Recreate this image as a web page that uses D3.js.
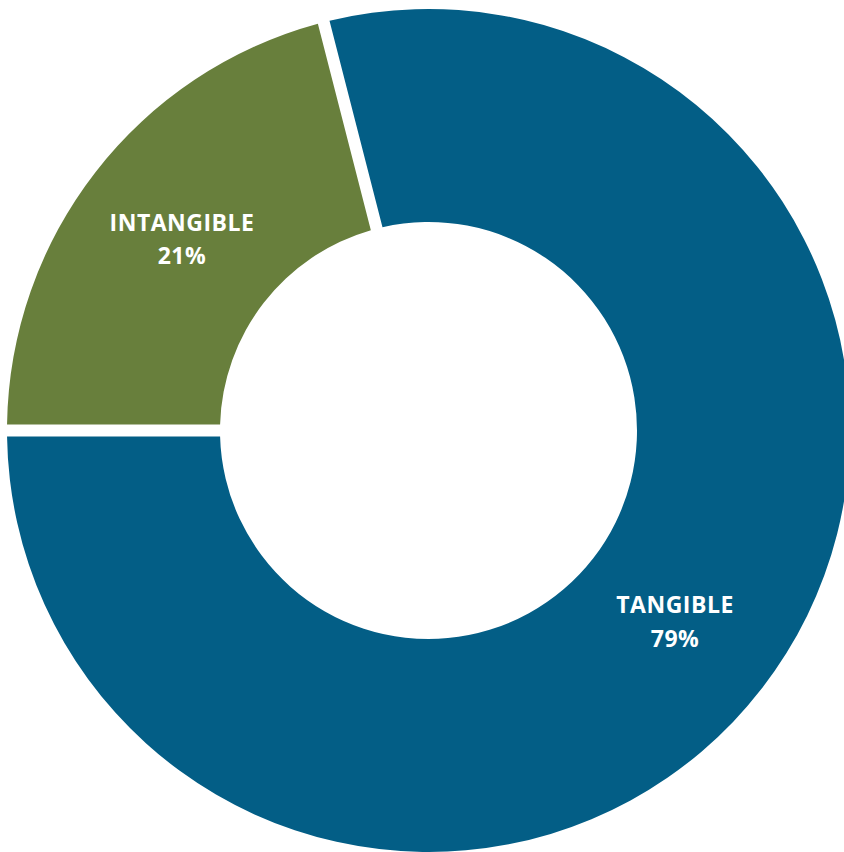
<!DOCTYPE html>
<html>
<head>
<meta charset="utf-8">
<script src="https://cdn.jsdelivr.net/npm/d3@7"></script>
<style>
  html, body { margin: 0; padding: 0; background: #ffffff; }
  svg { display: block; }
</style>
</head>
<body>
<svg id="chart" width="844" height="852"></svg>
<script>
// Share of value by asset type
const categories = ["INTANGIBLE", "TANGIBLE"];
const shares = [21, 79];
const colors = ["#687F3C", "#035E86"];

const width = 844, height = 852;
const cx = 428.5, cy = 430.5;
const outerR = 421.5, innerR = 208.5;
const gap = 12;

const svg = d3.select("#chart");
const g = svg.append("g").attr("transform", `translate(${cx},${cy})`);

const data = categories.map((c, i) => ({ name: c, value: shares[i], color: colors[i] }));

const pie = d3.pie()
  .sort(null)
  .value(d => d.value)
  .startAngle(-Math.PI / 2)
  .endAngle(1.5 * Math.PI);

const arcs = pie(data);

const padR = 300;
const arc = d3.arc()
  .innerRadius(innerR)
  .outerRadius(outerR)
  .padRadius(padR)
  .padAngle(gap / padR);

g.selectAll("path.slice")
  .data(arcs)
  .join("path")
  .attr("class", "slice")
  .attr("d", arc)
  .attr("fill", d => d.data.color);

const labelArc = d3.arc().innerRadius(312).outerRadius(312);

const labels = g.selectAll("text.label")
  .data(arcs)
  .join("text")
  .attr("class", "label")
  .attr("transform", d => {
    const [x, y] = labelArc.centroid(d);
    return `translate(${x},${y})`;
  })
  .attr("text-anchor", "middle")
  .attr("fill", "#ffffff")
  .style("font-family", "'Open Sans', Lato, sans-serif")
  .style("font-weight", "700")
  .style("font-size", "23px")
  .style("letter-spacing", "0.5px");

labels.append("tspan")
  .attr("x", 0)
  .attr("dy", "-0.37em")
  .text(d => d.data.name);

labels.append("tspan")
  .attr("x", 0)
  .attr("dy", "1.45em")
  .text(d => d.data.value + "%");
</script>
</body>
</html>
